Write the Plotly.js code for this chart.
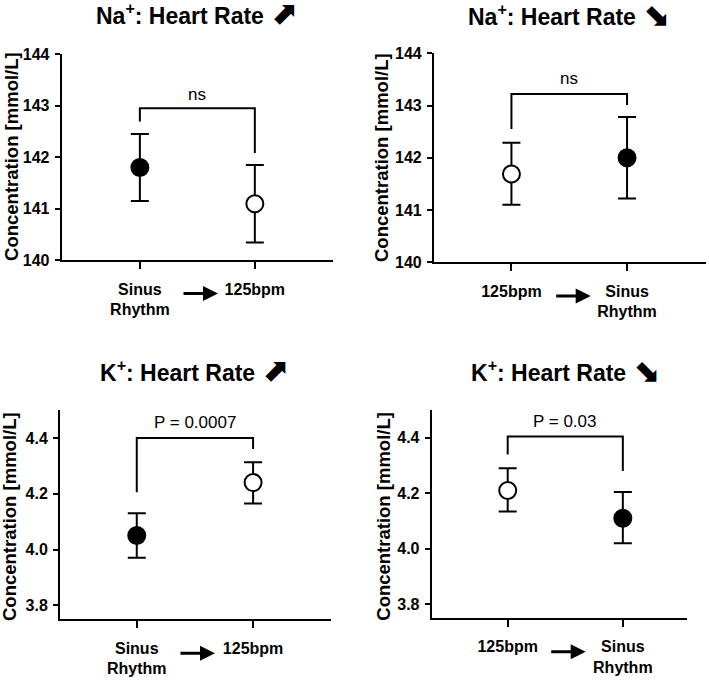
<!DOCTYPE html>
<html>
<head>
<meta charset="utf-8">
<script src="https://cdn.plot.ly/plotly-3.0.1.min.js"></script>
<style>
  html, body { margin: 0; padding: 0; background: #fff; }
  #plot { width: 709px; height: 681px; }
</style>
</head>
<body>
<div id="plot"></div>
<script>
// Na+ : heart rate up (sinus -> 125bpm)
const naUpLabels = ['Sinus<br>Rhythm', '125bpm'];
const naUpMean = [141.8, 141.1];
const naUpHigh = [142.45, 141.85];
const naUpLow = [141.15, 140.35];
const naUpBracket = [142.69, 142.95, 142.95, 142.08];
const naUpP = 'ns';

// Na+ : heart rate down (125bpm -> sinus)
const naDownLabels = ['125bpm', 'Sinus<br>Rhythm'];
const naDownMean = [141.69, 142.0];
const naDownHigh = [142.29, 142.78];
const naDownLow = [141.1, 141.22];
const naDownBracket = [142.55, 143.22, 143.22, 143.01];
const naDownP = 'ns';

// K+ : heart rate up
const kUpLabels = ['Sinus<br>Rhythm', '125bpm'];
const kUpMean = [4.05, 4.24];
const kUpHigh = [4.13, 4.313];
const kUpLow = [3.971, 4.165];
const kUpBracket = [4.205, 4.40, 4.40, 4.36];
const kUpP = 'P = 0.0007';

// K+ : heart rate down
const kDownLabels = ['125bpm', 'Sinus<br>Rhythm'];
const kDownMean = [4.21, 4.11];
const kDownHigh = [4.29, 4.205];
const kDownLow = [4.135, 4.02];
const kDownBracket = [4.34, 4.405, 4.405, 4.28];
const kDownP = 'P = 0.03';

const UP = '<span style="font-size:32px;font-family:DejaVu Sans">\u2B08</span>';
const DOWN = '<span style="font-size:32px;font-family:DejaVu Sans">\u2B0A</span>';
const panelTitles = [
    'Na<sup>+</sup>: Heart Rate ' + UP,
    'Na<sup>+</sup>: Heart Rate ' + DOWN,
    'K<sup>+</sup>: Heart Rate ' + UP,
    'K<sup>+</sup>: Heart Rate ' + DOWN
];
const yTitle = 'Concentration [mmol/L]';

const FONT = 'Liberation Sans, Arial, Helvetica, sans-serif';

const panels = [
    { labels: naUpLabels, mean: naUpMean, hi: naUpHigh, lo: naUpLow, br: naUpBracket, p: naUpP, pY: 143.21,
      xd: [0.0870, 0.4697], yd: [0.6175, 0.9207], xr: [-0.68, 1.68], yr: [140, 144], dtick: 1, fmt: 'd',
      title: [0.2774, 0.9815], ytl: [0.0169, 0.771], arrow: [0.3075, 0.5690] },
    { labels: naDownLabels, mean: naDownMean, hi: naDownHigh, lo: naDownLow, br: naDownBracket, p: naDownP, pY: 143.52,
      xd: [0.6121, 0.9953], yd: [0.6148, 0.9217], xr: [-0.67, 1.68], yr: [140, 144], dtick: 1, fmt: 'd',
      title: [0.8025, 0.9790], ytl: [0.5388, 0.768], arrow: [0.8331, 0.5653] },
    { labels: kUpLabels, mean: kUpMean, hi: kUpHigh, lo: kUpLow, br: kUpBracket, p: kUpP, pY: 4.457,
      xd: [0.0846, 0.4669], yd: [0.0906, 0.3979], xr: [-0.66, 1.67], yr: [3.75, 4.5], dtick: 0.2, fmt: '.1f',
      title: [0.2738, 0.4570], ytl: [0.0141, 0.2423], arrow: [0.3032, 0.0407] },
    { labels: kDownLabels, mean: kDownMean, hi: kDownHigh, lo: kDownLow, br: kDownBracket, p: kDownP, pY: 4.46,
      xd: [0.6089, 0.9694], yd: [0.0921, 0.3979], xr: [-0.66, 1.56], yr: [3.75, 4.5], dtick: 0.2, fmt: '.1f',
      title: [0.7976, 0.4570], ytl: [0.5416, 0.2427], arrow: [0.8261, 0.0430] }
];

const data = [];
const annotations = [];
const layout = {
    width: 709,
    height: 681,
    margin: { t: 0, b: 0, l: 0, r: 0 },
    paper_bgcolor: '#fff',
    plot_bgcolor: 'rgba(0,0,0,0)',
    font: { family: FONT, color: '#000' },
    showlegend: false
};

panels.forEach((p, i) => {
    const n = i + 1;
    const xa = 'x' + (n === 1 ? '' : n);
    const ya = 'y' + (n === 1 ? '' : n);
    const xs = p.labels.map((_, k) => k);
    const filled = p.labels.map(l => l.startsWith('Sinus'));

    // significance bracket
    data.push({
        x: [0, 0, 1, 1],
        y: p.br,
        xaxis: xa, yaxis: ya,
        type: 'scatter', mode: 'lines',
        line: { color: '#000', width: 2 },
        hoverinfo: 'skip'
    });

    // mean +/- error
    data.push({
        x: xs,
        y: p.mean,
        xaxis: xa, yaxis: ya,
        type: 'scatter', mode: 'markers',
        marker: {
            size: 17,
            color: filled.map(f => f ? '#000' : '#fff'),
            line: { color: '#000', width: 2 }
        },
        error_y: {
            type: 'data', symmetric: false,
            array: p.hi.map((v, k) => v - p.mean[k]),
            arrayminus: p.mean.map((v, k) => v - p.lo[k]),
            color: '#000', thickness: 2, width: 9
        }
    });

    layout['xaxis' + (n === 1 ? '' : n)] = {
        domain: p.xd, anchor: ya, range: p.xr,
        showline: true, linecolor: '#000', linewidth: 2,
        showgrid: false, zeroline: false,
        tickvals: xs, ticktext: p.labels,
        ticks: 'outside', ticklen: 7, tickwidth: 2, tickcolor: '#000',
        ticklabelstandoff: 6,
        tickfont: { family: FONT, size: 16, weight: 'bold', color: '#000' },
        fixedrange: true
    };
    layout['yaxis' + (n === 1 ? '' : n)] = {
        domain: p.yd, anchor: xa, range: p.yr,
        showline: true, linecolor: '#000', linewidth: 2,
        showgrid: false, zeroline: false,
        dtick: p.dtick, tick0: 0, tickformat: p.fmt,
        ticks: 'outside', ticklen: 5, tickwidth: 2, tickcolor: '#000',
        ticklabelstandoff: 2,
        tickfont: { family: FONT, size: 16, weight: 'bold', color: '#000' },
        fixedrange: true
    };

    annotations.push({
        xref: 'paper', yref: 'paper', x: p.title[0], y: p.title[1],
        xanchor: 'center', yanchor: 'middle', showarrow: false,
        text: '<b>' + panelTitles[i] + '</b>',
        font: { family: FONT, size: 23, color: '#000' }
    });
    annotations.push({
        xref: 'paper', yref: 'paper', x: p.ytl[0], y: p.ytl[1],
        xanchor: 'center', yanchor: 'middle', showarrow: false, textangle: -90,
        text: '<b>' + yTitle + '</b>',
        font: { family: FONT, size: 18.5, color: '#000' }
    });
    annotations.push({
        xref: xa, yref: ya, x: 0.5, y: p.pY,
        xanchor: 'center', yanchor: 'middle', showarrow: false,
        text: p.p,
        font: { family: FONT, size: 17, color: '#000' }
    });
    annotations.push({
        xref: 'paper', yref: 'paper', x: p.arrow[0], y: p.arrow[1],
        ax: -36, ay: 0, text: '', showarrow: true,
        arrowhead: 2, arrowsize: 1, arrowwidth: 3, arrowcolor: '#000'
    });
});

layout.annotations = annotations;

Plotly.newPlot('plot', data, layout, { displayModeBar: false, staticPlot: true });
</script>
</body>
</html>
